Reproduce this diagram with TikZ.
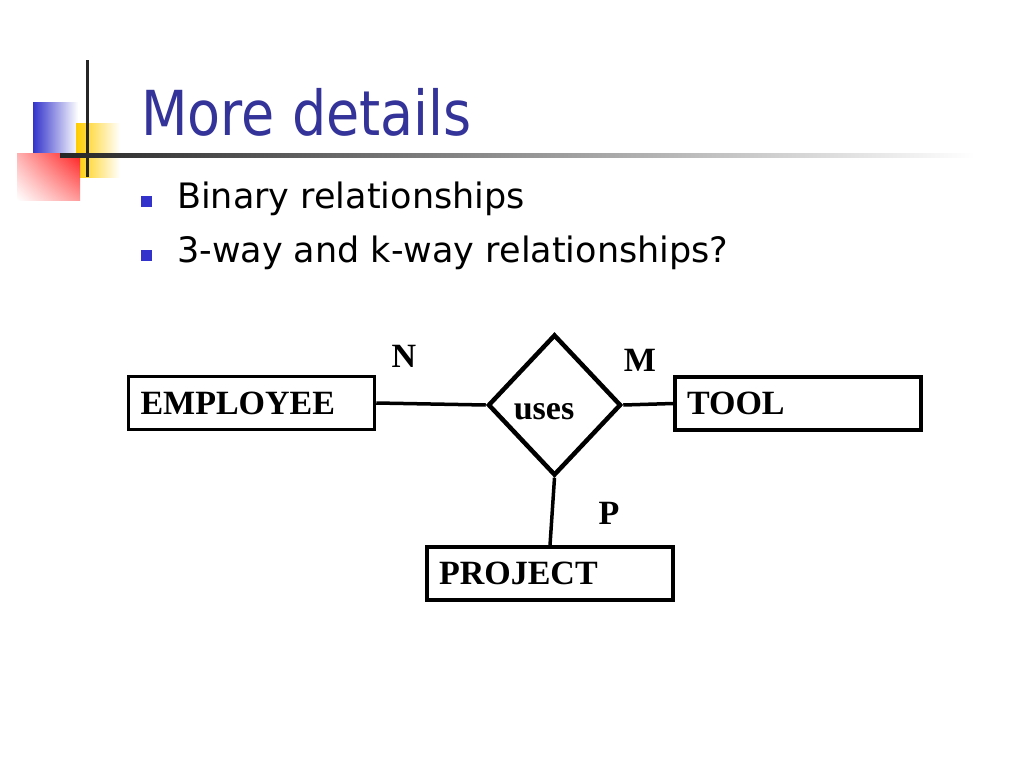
\documentclass[tikz,border=0pt]{standalone}
\usepackage{fontspec}
\setmainfont{Liberation Serif}
\newfontfamily\slidefont{DejaVu Sans}
\newfontfamily\titlefont[FakeStretch=0.87]{DejaVu Sans}
\usetikzlibrary{shapes.geometric,shadings}
\definecolor{titleblue}{RGB}{51,51,153}
\definecolor{bulletblue}{RGB}{51,51,204}
\definecolor{logoyellow}{RGB}{255,204,0}
\definecolor{logored}{RGB}{255,30,30}
\begin{document}
\begin{tikzpicture}[x=1pt,y=-1pt,
  entity/.style={draw,line width=3.5pt,minimum width=246pt,minimum height=53pt,text width=222pt,inner xsep=12pt,align=left,font=\bfseries\fontsize{34}{40}\selectfont},
  relation/.style={draw,diamond,line width=4.5pt,minimum width=133pt,minimum height=141pt,inner sep=0pt},
  card/.style={inner sep=0pt,font=\bfseries\fontsize{34}{40}\selectfont},
  link/.style={line width=3.5pt},
  bullet/.style={fill=bulletblue,minimum size=11pt,inner sep=0pt},
  item/.style={anchor=base west,inner sep=0pt,font=\slidefont\fontsize{35}{40}\selectfont}]
\useasboundingbox[fill=white] (0,0) rectangle (1024,768);
\shade[left color=bulletblue,middle color=bulletblue!70,right color=white] (33,102) rectangle (78,153);
\shade[left color=logoyellow,middle color=logoyellow!80,right color=white] (76,123) rectangle (120,177);
\shade[upper left=logored!35,upper right=logored,lower left=white,lower right=logored!45] (17,153) rectangle (80,200);
\fill[black!85] (85.5,60) rectangle (88.5,177);
\shade[left color=black!85,middle color=black!30,right color=white] (60,153) rectangle (975,157);
\node[anchor=base west,inner sep=0pt,text=titleblue,font=\titlefont\fontsize{62}{70}\selectfont] (title) at (141,135) {More details};
\node[bullet] (dot1) at (146.5,201.5) {};
\node[item] (binary) at (177,208) {Binary relationships};
\node[bullet] (dot2) at (146.5,255.5) {};
\node[item] (kway) at (177,262) {3-way and k-way relationships?};
\node[entity] (employee) at (251.5,403) {EMPLOYEE};
\node[entity] (tool) at (798,403.5) {TOOL};
\node[entity] (project) at (550,573.5) {PROJECT};
\node[relation] (uses) at (554.5,405) {};
\node[card] (usestext) at (544,412) {uses};
\draw[link] (employee.east) -- (uses.west);
\draw[link] (uses.east) -- (tool.west);
\draw[link] (uses.south) -- (project.north);
\node[card] (n) at (404,356) {N};
\node[card] (m) at (640,360) {M};
\node[card] (p) at (609,513) {P};
\end{tikzpicture}
\end{document}
